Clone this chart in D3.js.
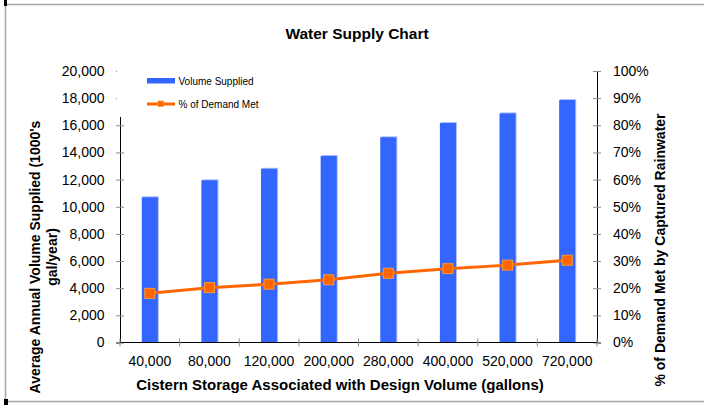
<!DOCTYPE html>
<html>
<head>
<meta charset="utf-8">
<script src="https://cdn.jsdelivr.net/npm/d3@7"></script>
<style>
  html, body { margin: 0; padding: 0; background: #fff; }
  svg { display: block; font-family: "Liberation Sans", Arial, sans-serif; }
</style>
</head>
<body>
<svg id="chart" width="704" height="405"></svg>
<script>
// Cistern storage sizes (gallons)
const categories = ["40,000", "80,000", "120,000", "200,000", "280,000", "400,000", "520,000", "720,000"];
// Average annual volume supplied (1000's gal/year)
const volumeSupplied = [10700, 11950, 12800, 13740, 15120, 16170, 16880, 17860];
// Share of demand met by captured rainwater
const demandMet = [0.181, 0.202, 0.215, 0.231, 0.255, 0.272, 0.285, 0.303];
const leftTicks = [0, 2000, 4000, 6000, 8000, 10000, 12000, 14000, 16000, 18000, 20000];
const rightTicks = [0, 0.1, 0.2, 0.3, 0.4, 0.5, 0.6, 0.7, 0.8, 0.9, 1.0];

const svg = d3.select("#chart");
const plot = { left: 120, right: 597, top: 71, bottom: 342.5 };

const x = d3.scaleBand().domain(categories).range([plot.left, plot.right]).padding(0);
const yL = d3.scaleLinear().domain([0, 20000]).range([plot.bottom, plot.top]);
const yR = d3.scaleLinear().domain([0, 1]).range([plot.bottom, plot.top]);
const barW = x.bandwidth() * 0.27;

// outer frame
svg.append("rect").attr("x", 5.5).attr("y", 4.5).attr("width", 760).attr("height", 397)
  .attr("fill", "none").attr("stroke", "#a6a6a6").attr("stroke-width", 1.5);
svg.append("rect").attr("x", 4).attr("y", 0).attr("width", 3).attr("height", 6).attr("fill", "#000");
svg.append("rect").attr("x", 4).attr("y", 399).attr("width", 4).attr("height", 6).attr("fill", "#000");

// title
svg.append("text").attr("x", 357).attr("y", 38.5).attr("text-anchor", "middle")
  .attr("font-size", 15.5).attr("font-weight", "bold").text("Water Supply Chart");

// bars (light edge behind, solid fill in front)
const bars = svg.append("g");
bars.selectAll("rect.edge").data(volumeSupplied).join("rect").attr("class", "edge")
  .attr("x", (d, i) => x(categories[i]) + (x.bandwidth() - barW) / 2 + 1)
  .attr("y", d => yL(d) - 1)
  .attr("width", barW).attr("height", d => plot.bottom - yL(d) + 1)
  .attr("fill", "#aebfff");
bars.selectAll("rect.bar").data(volumeSupplied).join("rect").attr("class", "bar")
  .attr("x", (d, i) => x(categories[i]) + (x.bandwidth() - barW) / 2)
  .attr("y", d => yL(d))
  .attr("width", barW).attr("height", d => plot.bottom - yL(d))
  .attr("fill", "#3366ff");

// axes
function styleAxis(g, dir) {
  g.selectAll(".tick line").attr("stroke", "#8c8c8c");
  g.select(".domain").attr("stroke", "#000");
  g.selectAll("text").attr("font-size", 14).attr("fill", "#000")
    .attr("font-family", "'Liberation Sans', Arial, sans-serif");
}
const gL = svg.append("g").attr("transform", `translate(${plot.left},0)`)
  .call(d3.axisLeft(yL).tickValues(leftTicks).tickFormat(d3.format(",")).tickSizeOuter(0).tickPadding(11.5).tickSize(4));
gL.selectAll(".tick line").attr("x1", -4).attr("x2", 4);
styleAxis(gL);

const gR = svg.append("g").attr("transform", `translate(${plot.right},0)`)
  .call(d3.axisRight(yR).tickValues(rightTicks).tickFormat(d3.format(".0%")).tickSizeOuter(0).tickPadding(12).tickSize(4));
gR.selectAll(".tick line").attr("x1", -4).attr("x2", 4);
styleAxis(gR);

// category axis: ticks on band boundaries
const gX = svg.append("g").attr("transform", `translate(0,${plot.bottom})`);
gX.append("line").attr("x1", plot.left).attr("x2", plot.right).attr("stroke", "#000");
const bounds = categories.map(c => x(c)).concat([plot.right]);
gX.selectAll("line.tk").data(bounds).join("line").attr("class", "tk")
  .attr("x1", d => d).attr("x2", d => d).attr("y1", -4).attr("y2", 4).attr("stroke", "#8c8c8c");
gX.selectAll("text").data(categories).join("text")
  .attr("x", d => x(d) + x.bandwidth() / 2).attr("y", 23).attr("text-anchor", "middle")
  .attr("font-size", 14).text(d => d);

// percentage line with square markers
const lineGen = d3.line().x((d, i) => x(categories[i]) + x.bandwidth() / 2).y(d => yR(d));
svg.append("path").datum(demandMet).attr("d", lineGen)
  .attr("fill", "none").attr("stroke", "#ff6600").attr("stroke-width", 3);
svg.selectAll("rect.mk").data(demandMet).join("rect").attr("class", "mk")
  .attr("x", (d, i) => x(categories[i]) + x.bandwidth() / 2 - 5)
  .attr("y", d => yR(d) - 5).attr("width", 10).attr("height", 10)
  .attr("fill", "#ff6600").attr("stroke", "#ff9933").attr("stroke-width", 1);

// legend (white box over the top of the value axis)
const lg = svg.append("g");
lg.append("rect").attr("x", 117).attr("y", 60).attr("width", 170).attr("height", 57).attr("fill", "#fff");
lg.append("rect").attr("x", 147).attr("y", 78).attr("width", 28).attr("height", 5.5).attr("fill", "#3366ff");
lg.append("text").attr("x", 178.5).attr("y", 84.5).attr("font-size", 10).text("Volume Supplied");
lg.append("line").attr("x1", 147).attr("x2", 175).attr("y1", 104).attr("y2", 104)
  .attr("stroke", "#ff6600").attr("stroke-width", 3);
lg.append("rect").attr("x", 158).attr("y", 101).attr("width", 5.5).attr("height", 5.5)
  .attr("fill", "#ff6600").attr("stroke", "#ff9933").attr("stroke-width", 0.8);
lg.append("text").attr("x", 178.5).attr("y", 107.5).attr("font-size", 10).text("% of Demand Met");

// axis titles
svg.append("text").attr("x", 340).attr("y", 390).attr("text-anchor", "middle")
  .attr("font-size", 15).attr("font-weight", "bold")
  .text("Cistern Storage Associated with Design Volume (gallons)");

const yTitle = svg.append("text").attr("transform", "translate(40,257) rotate(-90)")
  .attr("text-anchor", "middle").attr("font-size", 14).attr("font-weight", "bold");
yTitle.append("tspan").attr("x", 0).attr("y", 0).text("Average Annual Volume Supplied (1000's");
yTitle.append("tspan").attr("x", 0).attr("y", 17).text("gal/year)");

svg.append("text").attr("transform", "translate(665,250) rotate(-90)")
  .attr("text-anchor", "middle").attr("font-size", 14).attr("font-weight", "bold")
  .text("% of Demand Met by Captured Rainwater");
</script>
</body>
</html>
